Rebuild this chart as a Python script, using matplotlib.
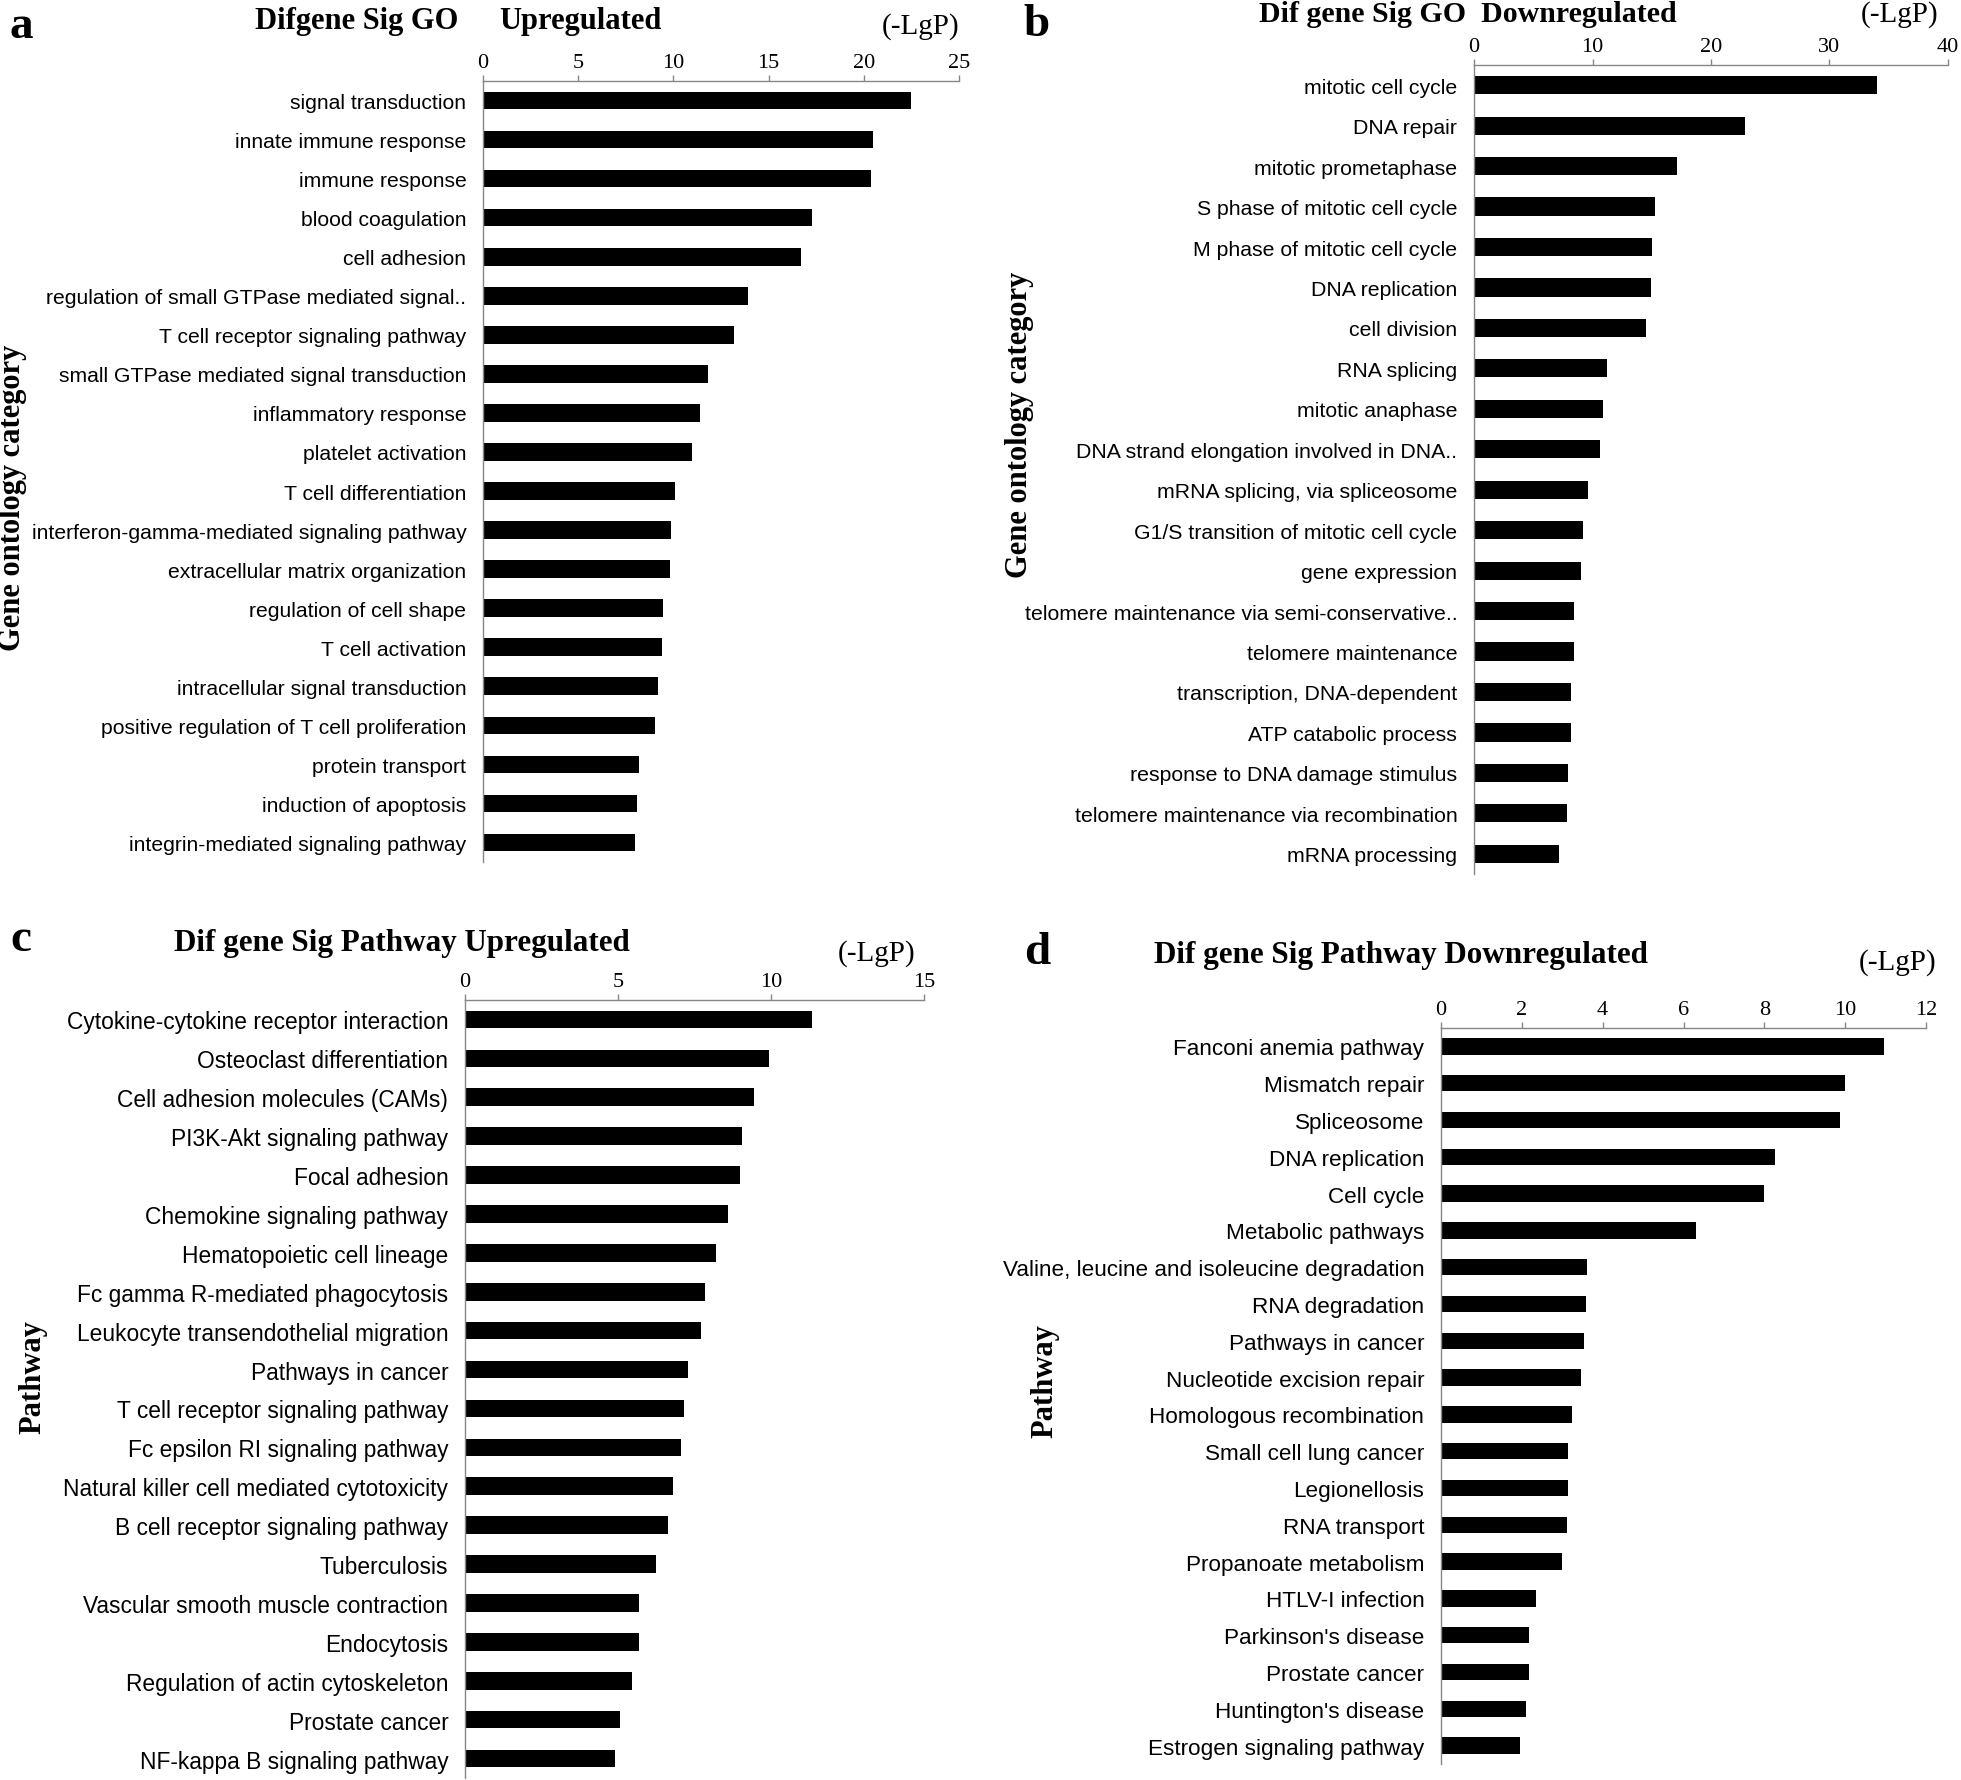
import matplotlib
matplotlib.use("Agg")
import matplotlib.pyplot as plt
import numpy as np

# figure size in pixels (dpi 100)
W, H = 1961, 1781

# ---- data (-LgP) ----
go_up_terms = [
    "signal transduction", "innate immune response", "immune response",
    "blood coagulation", "cell adhesion",
    "regulation of small GTPase mediated signal..",
    "T cell receptor signaling pathway",
    "small GTPase mediated signal transduction", "inflammatory response",
    "platelet activation", "T cell differentiation",
    "interferon-gamma-mediated signaling pathway",
    "extracellular matrix organization", "regulation of cell shape",
    "T cell activation", "intracellular signal transduction",
    "positive regulation of T cell proliferation", "protein transport",
    "induction of apoptosis", "integrin-mediated signaling pathway",
]
go_up_lgp = [22.5, 20.5, 20.4, 17.3, 16.7, 13.9, 13.2, 11.8, 11.4, 11.0,
             10.1, 9.9, 9.8, 9.45, 9.4, 9.2, 9.05, 8.2, 8.1, 8.0]

go_down_terms = [
    "mitotic cell cycle", "DNA repair", "mitotic prometaphase",
    "S phase of mitotic cell cycle", "M phase of mitotic cell cycle",
    "DNA replication", "cell division", "RNA splicing", "mitotic anaphase",
    "DNA strand elongation involved in DNA..",
    "mRNA splicing, via spliceosome",
    "G1/S transition of mitotic cell cycle", "gene expression",
    "telomere maintenance via semi-conservative..", "telomere maintenance",
    "transcription, DNA-dependent", "ATP catabolic process",
    "response to DNA damage stimulus",
    "telomere maintenance via recombination", "mRNA processing",
]
go_down_lgp = [34.0, 22.9, 17.1, 15.3, 15.0, 14.9, 14.5, 11.2, 10.9, 10.6,
               9.6, 9.2, 9.0, 8.45, 8.4, 8.2, 8.2, 7.9, 7.85, 7.15]

path_up_terms = [
    "Cytokine-cytokine receptor interaction", "Osteoclast differentiation",
    "Cell adhesion molecules (CAMs)", "PI3K-Akt signaling pathway",
    "Focal adhesion", "Chemokine signaling pathway",
    "Hematopoietic cell lineage", "Fc gamma R-mediated phagocytosis",
    "Leukocyte transendothelial migration", "Pathways in cancer",
    "T cell receptor signaling pathway", "Fc epsilon RI signaling pathway",
    "Natural killer cell mediated cytotoxicity",
    "B cell receptor signaling pathway", "Tuberculosis",
    "Vascular smooth muscle contraction", "Endocytosis",
    "Regulation of actin cytoskeleton", "Prostate cancer",
    "NF-kappa B signaling pathway",
]
path_up_lgp = [11.35, 9.95, 9.45, 9.05, 9.0, 8.6, 8.2, 7.85, 7.7, 7.3,
               7.15, 7.05, 6.8, 6.65, 6.25, 5.7, 5.7, 5.45, 5.05, 4.9]

path_down_terms = [
    "Fanconi anemia pathway", "Mismatch repair", "Spliceosome",
    "DNA replication", "Cell cycle", "Metabolic pathways",
    "Valine, leucine and isoleucine degradation", "RNA degradation",
    "Pathways in cancer", "Nucleotide excision repair",
    "Homologous recombination", "Small cell lung cancer", "Legionellosis",
    "RNA transport", "Propanoate metabolism", "HTLV-I infection",
    "Parkinson's disease", "Prostate cancer", "Huntington's disease",
    "Estrogen signaling pathway",
]
path_down_lgp = [10.95, 10.0, 9.87, 8.27, 7.98, 6.3, 3.62, 3.59, 3.53, 3.46,
                 3.25, 3.15, 3.15, 3.12, 3.0, 2.35, 2.17, 2.17, 2.1, 1.95]

SANS = "Liberation Sans"
SERIF = "Liberation Serif"
GRAY = "#868686"


def fx(px):
    return px / W


def fy(py):
    return 1 - py / H


def rect(left, right, top, bottom):
    return [fx(left), fy(bottom), (right - left) / W, (bottom - top) / H]


def bar_panel(fig, box, terms, values, xmax, step, label_size):
    ax = fig.add_axes(box)
    ax.barh(np.arange(len(terms)), values, height=0.45, color="black")
    ax.set_ylim(len(terms) - 0.5, -0.5)
    ax.set_xlim(0, xmax)
    ax.set_xticks(np.arange(0, xmax + step / 2, step))
    ax.xaxis.tick_top()
    ax.set_yticks(np.arange(len(terms)))
    ax.set_yticklabels(terms, fontfamily=SANS, fontsize=label_size)
    for lab in ax.get_xticklabels():
        lab.set_fontfamily(SERIF)
    ax.tick_params(axis="x", direction="out", length=4.3, width=1.0,
                   color=GRAY, labelsize=16, pad=2.0)
    ax.tick_params(axis="y", length=0, pad=12)
    for side in ("right", "bottom"):
        ax.spines[side].set_visible(False)
    for side in ("top", "left"):
        ax.spines[side].set_color(GRAY)
        ax.spines[side].set_linewidth(1.0)
    return ax


fig = plt.figure(figsize=(W / 100, H / 100), dpi=100)

bar_panel(fig, rect(483, 959, 82, 863), go_up_terms, go_up_lgp, 25, 5, 15.2)
bar_panel(fig, rect(1474, 1948, 66, 875), go_down_terms, go_down_lgp, 40, 10, 15.3)
bar_panel(fig, rect(465, 924, 1001, 1779), path_up_terms, path_up_lgp, 15, 5, 16.4)
bar_panel(fig, rect(1441, 1926, 1029, 1765), path_down_terms, path_down_lgp, 12, 2, 16.2)

# panel letters
for letter, x, y in [("a", 21, 27), ("b", 1037, 25), ("c", 21, 940), ("d", 1037, 953)]:
    fig.text(fx(x), fy(y), letter, fontfamily=SERIF, fontweight="bold",
             fontsize=34, ha="center", va="center")

# titles
title_kw = dict(fontfamily=SERIF, fontweight="bold", va="center")
fig.text(fx(255), fy(22), "Difgene Sig GO", ha="left", fontsize=22, **title_kw)
fig.text(fx(499), fy(22), "Upregulated", ha="left", fontsize=22, **title_kw)
fig.text(fx(1259), fy(14), "Dif gene Sig GO  Downregulated", ha="left",
         fontsize=21.5, **title_kw)
fig.text(fx(174), fy(944), "Dif gene Sig Pathway Upregulated", ha="left",
         fontsize=22.4, **title_kw)
fig.text(fx(1154), fy(956), "Dif gene Sig Pathway Downregulated", ha="left",
         fontsize=22.4, **title_kw)

# unit labels
for x, y in [(959, 27), (1938, 15), (915, 954), (1936, 963)]:
    fig.text(fx(x), fy(y), "(-LgP)", fontfamily=SERIF, fontsize=21,
             ha="right", va="center")

# y axis titles
ylab_kw = dict(fontfamily=SERIF, fontweight="bold", fontsize=22,
               rotation=90, ha="center", va="center")
fig.text(fx(13), fy(498), "Gene ontology category", **ylab_kw)
fig.text(fx(1019), fy(425), "Gene ontology category", **ylab_kw)
fig.text(fx(33), fy(1377), "Pathway", **ylab_kw)
fig.text(fx(1045), fy(1381), "Pathway", **ylab_kw)

fig.savefig("out.png", dpi=100, facecolor="white")
